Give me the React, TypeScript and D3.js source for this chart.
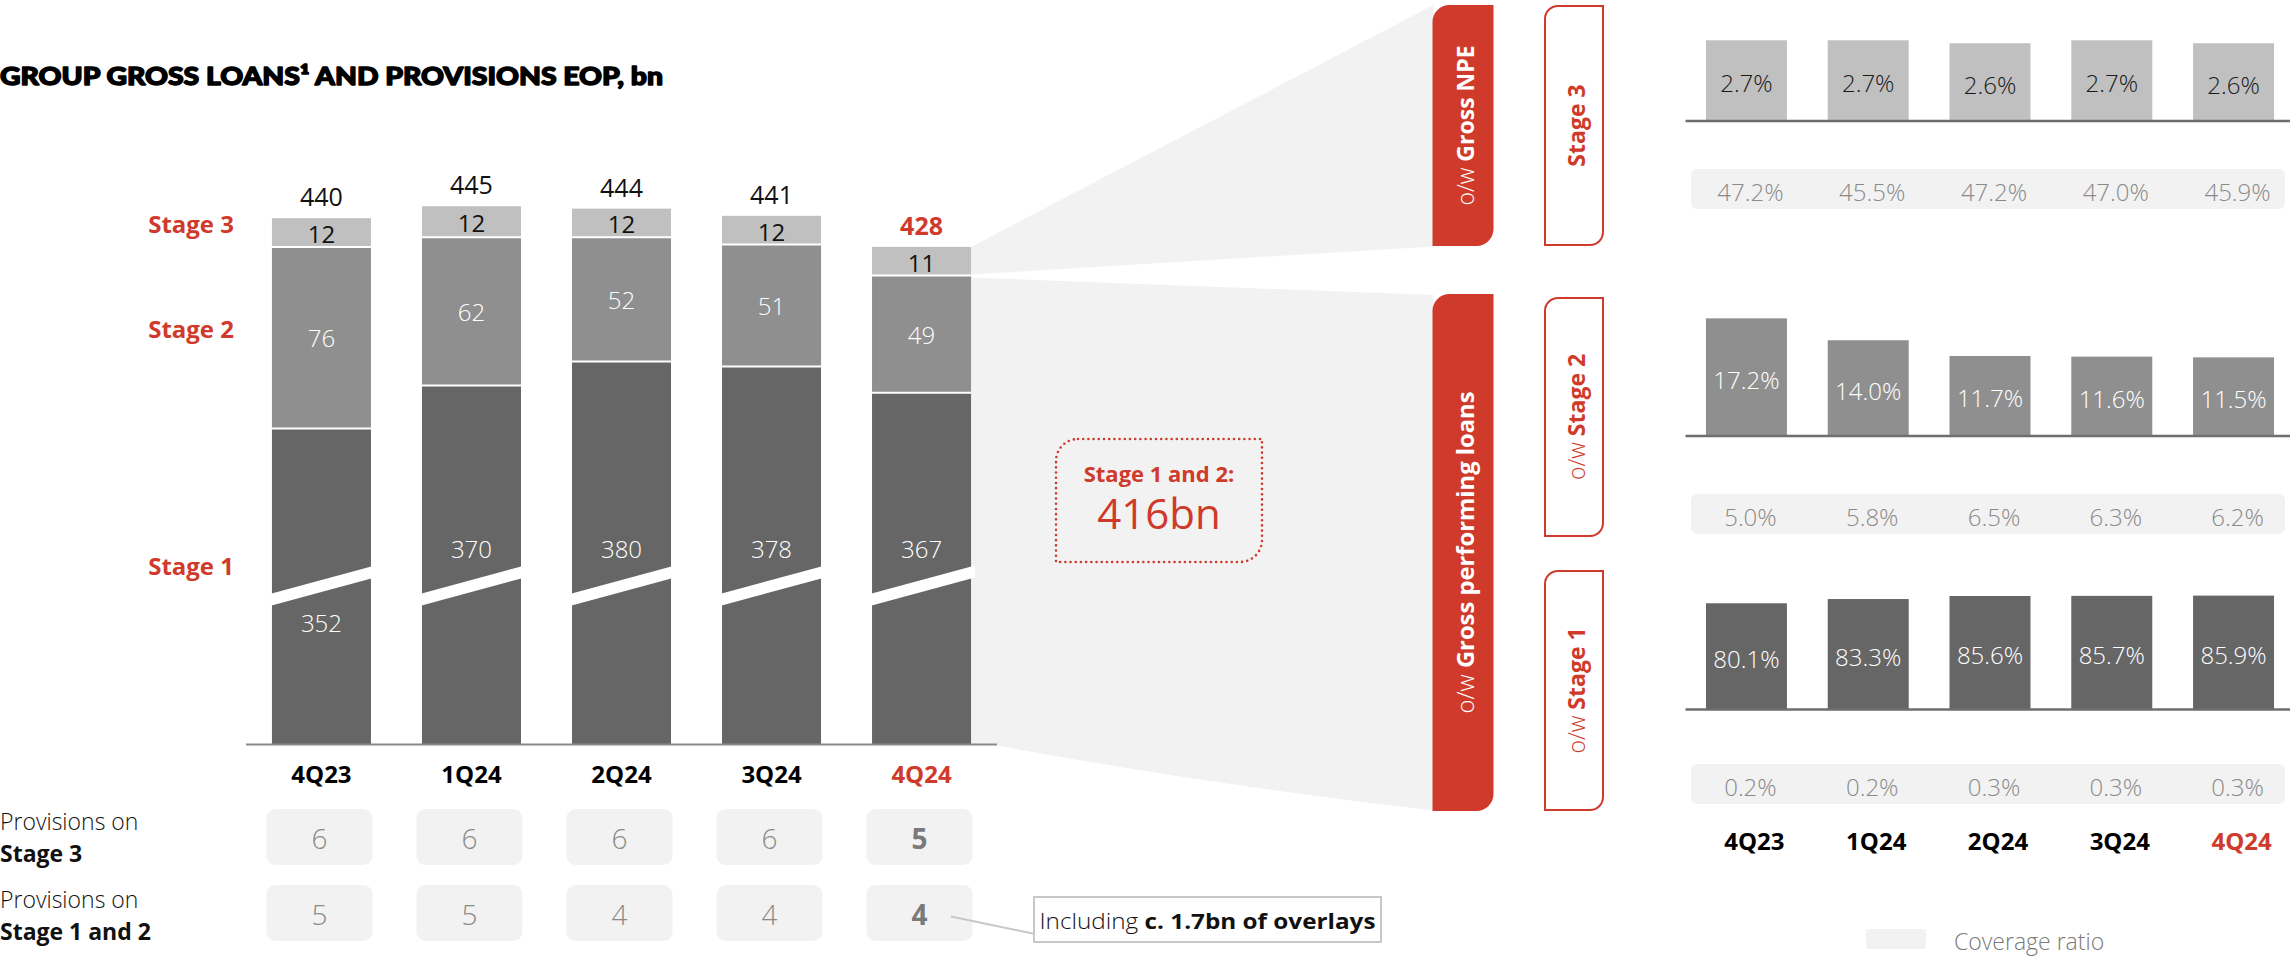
import React from 'react';
import * as d3 from 'd3';

// ---------- DATA ----------
const quarters = ['4Q23', '1Q24', '2Q24', '3Q24', '4Q24'];
const stage1 = [352, 370, 380, 378, 367];
const stage2 = [76, 62, 52, 51, 49];
const stage3 = [12, 12, 12, 12, 11];
const totals = [440, 445, 444, 441, 428];
const provStage3 = [6, 6, 6, 6, 5];
const provStage12 = [5, 5, 4, 4, 4];
const shareStage3 = [2.7, 2.7, 2.6, 2.7, 2.6];
const shareStage2 = [17.2, 14.0, 11.7, 11.6, 11.5];
const shareStage1 = [80.1, 83.3, 85.6, 85.7, 85.9];
const coverageStage3 = [47.2, 45.5, 47.2, 47.0, 45.9];
const coverageStage2 = [5.0, 5.8, 6.5, 6.3, 6.2];
const coverageStage1 = [0.2, 0.2, 0.3, 0.3, 0.3];
const performingTotal = 416;
const overlays = 1.7;
const axisCut = 220; // value removed by the axis break

// ---------- STYLE ----------
const RED = '#cf3a2b';
const C3 = '#c0c0c0';
const C2 = '#8f8f8f';
const C1 = '#666666';
const FUN = '#f2f2f2';
const FONT = "'Open Sans', 'Noto Sans', sans-serif";
const TITLE_FONT = "Lato, 'Open Sans', sans-serif";

const leaf = (x: number, y: number, w: number, h: number, r: number) =>
  `M${x + r},${y} H${x + w} V${y + h - r} A${r},${r} 0 0 1 ${x + w - r},${y + h} H${x} V${y + r} A${r},${r} 0 0 1 ${x + r},${y} Z`;

export default function App() {
  const W = 2290, H = 957;
  const x = d3.scaleBand<string>().domain(quarters).range([246, 997]).paddingInner(0.34).paddingOuter(0.173);
  const base = 744;
  const y = d3.scaleLinear().domain([axisCut, axisCut + 300]).range([base, base - 300 * 2.39]);
  const bw = x.bandwidth();
  const last = quarters.length - 1;

  const xr = d3.scaleBand<string>().domain(quarters).range([1685.5, 2294.5]).paddingInner(0.335).paddingOuter(0.168);
  const rbw = xr.bandwidth();

  const panels = [
    { shares: shareStage3, cov: coverageStage3, base: 121, k: 29.9, fill: C3, tf: '#1a1a1a', covY: 189 },
    { shares: shareStage2, cov: coverageStage2, base: 436, k: 6.84, fill: C2, tf: '#fff', covY: 514 },
    { shares: shareStage1, cov: coverageStage1, base: 709.5, k: 1.326, fill: C1, tf: '#fff', covY: 784 },
  ];

  // break band geometry (relative to each bar)
  const brkTopL = 593.5, brkTopR = 566.5, brkTh = 12, ext = 4;
  const slope = (brkTopR - brkTopL) / bw;

  const b5x1 = (x(quarters[last]) as number) + bw;
  const s3top = y(totals[last]);
  const s3bot = y(stage1[last] + stage2[last]);

  const redX = 1432.5, redW = 61, outX = 1545, outW = 58;

  return (
    <svg width={W} height={H} style={{ position: 'absolute', left: 0, top: 0, display: 'block', background: '#fff' }}>
      {/* Title */}
      <text x={0} y={85} fontFamily={TITLE_FONT} fontWeight={900} fontSize={25} fill="#000" stroke="#000" strokeWidth={1.4} strokeLinejoin="round" textLength={663} lengthAdjust="spacingAndGlyphs">
        GROUP GROSS LOANS¹ AND PROVISIONS EOP, bn
      </text>

      {/* Funnels */}
      <path d={`M${b5x1},${s3top} L${redX + 1},5 L${redX + 1},246.5 L${b5x1},${s3bot - 1} Z`} fill={FUN} />
      <path d={`M${b5x1},${s3bot + 2} L${redX + 1},295 L${redX + 1},810.5 Q1210,785 997,745.5 L${b5x1},${base} Z`} fill={FUN} />

      {/* Left stacked bars */}
      {quarters.map((q, i) => {
        const x0 = x(q) as number;
        const b1 = stage1[i], b2 = stage1[i] + stage2[i], t = totals[i];
        const cx = x0 + bw / 2;
        const yTL = brkTopL, yTR = brkTopR;
        const band = `M${x0 - ext},${yTL - slope * ext} L${x0 + bw + ext},${yTR + slope * ext} L${x0 + bw + ext},${yTR + slope * ext + brkTh} L${x0 - ext},${yTL - slope * ext + brkTh} Z`;
        const brkMid = (yTL + yTR) / 2 + brkTh / 2;
        const s1LabelY = i === 0 ? brkMid + 36 : brkMid - 38;
        const isLast = i === last;
        return (
          <g key={q}>
            <rect x={x0} y={y(b1)} width={bw} height={base - y(b1)} fill={C1} />
            <rect x={x0} y={y(b2)} width={bw} height={y(b1) - y(b2)} fill={C2} />
            <rect x={x0} y={y(t)} width={bw} height={y(b2) - y(t)} fill={C3} />
            <line x1={x0} x2={x0 + bw} y1={y(b1)} y2={y(b1)} stroke="#fff" strokeWidth={2} />
            <line x1={x0} x2={x0 + bw} y1={y(b2)} y2={y(b2)} stroke="#fff" strokeWidth={2} />
            <path d={band} fill="#fff" />
            <text x={cx} y={y(t) - 12} textAnchor="middle" fontFamily={FONT} fontSize={25} fontWeight={isLast ? 700 : 400} fill={isLast ? RED : '#111'}>{t}</text>
            <text x={cx} y={(y(t) + y(b2)) / 2 + 1} textAnchor="middle" dominantBaseline="central" fontFamily={FONT} fontSize={24} fill="#111">{stage3[i]}</text>
            <text x={cx} y={(y(b2) + y(b1)) / 2} textAnchor="middle" dominantBaseline="central" fontFamily={FONT} fontSize={24} fontWeight={300} fill="#fff">{stage2[i]}</text>
            <text x={cx} y={s1LabelY} textAnchor="middle" dominantBaseline="central" fontFamily={FONT} fontSize={24} fontWeight={300} fill="#fff">{stage1[i]}</text>
            <text x={cx} y={773} textAnchor="middle" dominantBaseline="central" fontFamily={FONT} fontSize={24} fontWeight={700} fill={isLast ? RED : '#000'}>{q}</text>
          </g>
        );
      })}
      <line x1={246} x2={997} y1={base + 0.5} y2={base + 0.5} stroke="#8a8a8a" strokeWidth={2} />

      {/* Stage labels left */}
      {[['Stage 3', 223], ['Stage 2', 328], ['Stage 1', 565]].map(([t, yy]) => (
        <text key={t as string} x={234} y={yy as number} textAnchor="end" dominantBaseline="central" fontFamily={FONT} fontSize={24} fontWeight={700} fill={RED}>{t}</text>
      ))}

      {/* Stage 1 and 2 box */}
      <path d={leaf(1056, 439, 206, 123, 22)} fill="none" stroke={RED} strokeWidth={2.6} strokeDasharray="0 5.2" strokeLinecap="round" />
      <text x={1159} y={482} textAnchor="middle" fontFamily={FONT} fontSize={22} fontWeight={700} fill={RED}>Stage 1 and 2:</text>
      <text x={1159} y={529} textAnchor="middle" fontFamily={FONT} fontSize={42} fontWeight={400} fill={RED}>{performingTotal}bn</text>

      {/* Provisions */}
      <text fontFamily={FONT} fontSize={23} fill="#111">
        <tspan x={0} y={830} fontWeight={300}>Provisions on</tspan>
        <tspan x={0} y={862} fontWeight={700}>Stage 3</tspan>
        <tspan x={0} y={908} fontWeight={300}>Provisions on</tspan>
        <tspan x={0} y={940} fontWeight={700}>Stage 1 and 2</tspan>
      </text>
      {[provStage3, provStage12].map((row, r) => (
        <g key={r}>
          {quarters.map((q, i) => {
            const cx = (x(q) as number) + bw / 2 - 2;
            const yy = r === 0 ? 809 : 885;
            const isLast = i === last;
            return (
              <g key={q}>
                <rect x={cx - 53} y={yy} width={106} height={56} rx={9} fill={FUN} />
                <text x={cx} y={yy + 29} textAnchor="middle" dominantBaseline="central" fontFamily={FONT} fontSize={28} fontWeight={isLast ? 700 : 300} fill={isLast ? '#7a7a7a' : '#8a8a8a'}>{row[i]}</text>
              </g>
            );
          })}
        </g>
      ))}
      {/* overlays callout */}
      <line x1={951} y1={916.5} x2={1035} y2={934} stroke="#c8c8c8" strokeWidth={2} />
      <rect x={1034} y={897} width={347} height={45} fill="#fff" stroke="#c8c8c8" strokeWidth={2} />
      <text x={1207.5} y={920} textAnchor="middle" dominantBaseline="central" fontFamily={FONT} fontSize={22} fill="#111" textLength={336} lengthAdjust="spacingAndGlyphs">
        <tspan fontWeight={300}>Including </tspan>
        <tspan fontWeight={700}>c. {overlays}bn of overlays</tspan>
      </text>

      {/* Red boxes */}
      <path d={leaf(redX, 5, redW, 241, 17)} fill={RED} />
      <path d={leaf(redX, 294, redW, 517, 17)} fill={RED} />
      <text transform={`translate(${redX + redW / 2 + 2},125.5) rotate(-90)`} textAnchor="middle" dominantBaseline="central" fontFamily={FONT} fontSize={23} fill="#fff">
        <tspan fontWeight={300}>o/w </tspan><tspan fontWeight={700}>Gross NPE</tspan>
      </text>
      <text transform={`translate(${redX + redW / 2 + 2},552.5) rotate(-90)`} textAnchor="middle" dominantBaseline="central" fontFamily={FONT} fontSize={23} fill="#fff" textLength={322} lengthAdjust="spacingAndGlyphs">
        <tspan fontWeight={300}>o/w </tspan><tspan fontWeight={700}>Gross performing loans</tspan>
      </text>

      {/* Outline boxes */}
      {[
        { y0: 6, y1: 245, pre: '', main: 'Stage 3' },
        { y0: 298, y1: 536, pre: 'o/w ', main: 'Stage 2' },
        { y0: 571, y1: 810, pre: 'o/w ', main: 'Stage 1' },
      ].map((b) => (
        <g key={b.main}>
          <path d={leaf(outX, b.y0, outW, b.y1 - b.y0, 13)} fill="#fff" stroke={RED} strokeWidth={2} />
          <text transform={`translate(${outX + outW / 2 + 2},${(b.y0 + b.y1) / 2}) rotate(-90)`} textAnchor="middle" dominantBaseline="central" fontFamily={FONT} fontSize={23} fill={RED}>
            {b.pre ? <tspan fontWeight={300}>{b.pre}</tspan> : null}
            <tspan fontWeight={700}>{b.main}</tspan>
          </text>
        </g>
      ))}

      {/* Right panels */}
      {panels.map((p, pi) => {
        const ys = d3.scaleLinear().domain([0, 1]).range([p.base, p.base - p.k]);
        return (
          <g key={pi}>
            {quarters.map((q, i) => {
              const x0 = xr(q) as number;
              const top = ys(p.shares[i]);
              return (
                <g key={q}>
                  <rect x={x0} y={top} width={rbw} height={p.base - top} fill={p.fill} />
                  <text x={x0 + rbw / 2} y={(top + p.base) / 2 + 2} textAnchor="middle" dominantBaseline="central" fontFamily={FONT} fontSize={24} fontWeight={300} fill={p.tf}>
                    {p.shares[i].toFixed(1)}%
                  </text>
                </g>
              );
            })}
            <line x1={1685.5} x2={2290} y1={p.base} y2={p.base} stroke="#6e6e6e" strokeWidth={2.5} />
            <rect x={1691} y={p.covY - 20} width={594} height={40} rx={6} fill={FUN} />
            {quarters.map((q, i) => (
              <text key={q} x={(xr(q) as number) + rbw / 2 + 4} y={p.covY + 2} textAnchor="middle" dominantBaseline="central" fontFamily={FONT} fontSize={24} fontWeight={300} fill="#8a8a8a">
                {p.cov[i].toFixed(1)}%
              </text>
            ))}
          </g>
        );
      })}
      {quarters.map((q, i) => (
        <text key={q} x={(xr(q) as number) + rbw / 2 + 8} y={840} textAnchor="middle" dominantBaseline="central" fontFamily={FONT} fontSize={24} fontWeight={700} fill={i === last ? RED : '#000'}>{q}</text>
      ))}
      {/* Legend */}
      <rect x={1866} y={929} width={60} height={20} rx={3} fill={FUN} />
      <text x={1954} y={941} dominantBaseline="central" fontFamily={FONT} fontSize={23} fontWeight={300} fill="#7a7a7a">Coverage ratio</text>
    </svg>
  );
}
